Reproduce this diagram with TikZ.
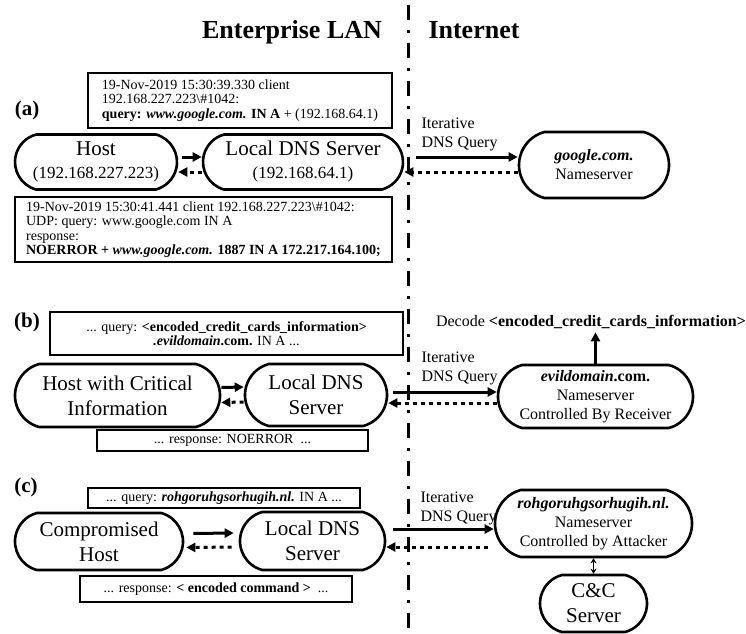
\documentclass[tikz,border=0pt]{standalone}
\usepackage{fontspec}
\setmainfont{Liberation Serif}
\usetikzlibrary{arrows.meta}
\usetikzlibrary{shapes.misc}

\tikzset{
    stadium/.style={rounded rectangle, rounded rectangle arc length=150, draw, line width=2.6pt, inner sep=0pt, align=center},
    logbox/.style={rectangle, draw, line width=2.6pt, inner sep=0pt, font=\fontsize{14}{14.5}\selectfont},
    heading/.style={font=\fontsize{26}{30}\selectfont\bfseries},
    partlabel/.style={font=\fontsize{21}{24}\selectfont\bfseries},
    bigtext/.style={font=\fontsize{21}{25}\selectfont},
    smalltext/.style={font=\fontsize{16}{19}\selectfont},
    query/.style={line width=3pt, -{Triangle[length=9pt,width=9pt]}},
    reply/.style={line width=3pt, dash pattern=on 4pt off 4pt, -{Triangle[length=9pt,width=9pt]}},
    link/.style={line width=1.5pt, {Stealth[length=5pt,width=6pt]}-{Stealth[length=5pt,width=6pt]}},
    divider/.style={line width=3pt, dash pattern=on 15pt off 10pt on 3pt off 10pt}
}

\begin{document}
\begin{tikzpicture}[x=1pt,y=-1pt]
    \useasboundingbox (0,0) rectangle (746,633);
    \coordinate (divTop) at (408,5);
    \coordinate (divBot) at (408,633);
    \draw[divider] (divTop) -- (divBot);
    \node at (292,32) [heading] (lan) {Enterprise LAN};
    \node at (474,30) [heading] (internet) {Internet};

    % (a) normal lookup
    \node at (27,110) [partlabel] (labA) {(a)};
    \node at (240,100.5) [logbox,minimum width=304pt,minimum height=55pt,align=left] (logQueryA)
        {19-Nov-2019 15:30:39.330 client\\192.168.227.223\textbackslash\#1042:\\
         \textbf{query: \textit{www.google.com.} IN A} + (192.168.64.1)};
    \node at (96,162) [stadium,bigtext,minimum width=162pt,minimum height=55pt] (hostA)
        {Host\\[-2pt]{\fontsize{17}{19}\selectfont (192.168.227.223)}};
    \node at (303,162) [stadium,bigtext,minimum width=200pt,minimum height=55pt] (dnsA)
        {Local DNS Server\\[-2pt]{\fontsize{17}{19}\selectfont (192.168.64.1)}};
    \node at (203.5,229.5) [logbox,minimum width=377pt,minimum height=65pt,align=left] (logReplyA)
        {19-Nov-2019 15:30:41.441 client 192.168.227.223\textbackslash\#1042:\\
         UDP: query: www.google.com IN A\\
         response:\\
         \textbf{NOERROR + \textit{www.google.com.} 1887 IN A 172.217.164.100;}};
    \node at (594,165) [stadium,smalltext,minimum width=150pt,minimum height=66pt] (googleNS)
        {\textbf{\textit{google.com.}}\\Nameserver};
    \node at (418,134) [anchor=west,smalltext,align=left] (iterA) {Iterative\\DNS Query};
    \draw[query,shorten <=4pt] ([yshift=5pt]hostA.east) -- ([yshift=5pt]dnsA.west);
    \draw[reply] ([yshift=-10pt]dnsA.west) -- ([yshift=-10pt]hostA.east);
    \draw[query,shorten <=12pt] ([yshift=5pt]dnsA.east) -- ([yshift=5pt]dnsA.east -| googleNS.west);
    \draw[reply] ([yshift=-10pt]dnsA.east -| googleNS.west) -- ([yshift=-10pt]dnsA.east);

    % (b) exfiltration
    \node at (27,322) [partlabel] (labB) {(b)};
    \node at (226.5,333.5) [logbox,minimum width=353pt,minimum height=43pt,align=center] (logQueryB)
        {... query: \textbf{<encoded\_credit\_cards\_information>}\\
         \textbf{\textit{.evildomain}.com.} IN A ...};
    \node at (117.5,395.5) [stadium,bigtext,minimum width=205pt,minimum height=63pt] (hostB)
        {Host with Critical\\Information};
    \node at (316,395) [stadium,bigtext,minimum width=142pt,minimum height=62pt] (dnsB)
        {Local DNS\\Server};
    \node at (232.5,440.5) [logbox,minimum width=271pt,minimum height=21pt] (logReplyB)
        {... response: NOERROR\ \ ...};
    \node at (595.5,396.5) [stadium,smalltext,minimum width=195pt,minimum height=63pt] (evilNS)
        {\textbf{\textit{evildomain}.com.}\\Nameserver\\Controlled By Receiver};
    \node at (591,322) [smalltext] (decode) {Decode \textbf{<encoded\_credit\_cards\_information>}};
    \node at (418,368.5) [anchor=west,smalltext,align=left] (iterB) {Iterative\\DNS Query};
    \draw[query] ([yshift=8pt]hostB.east) -- ([yshift=8pt]dnsB.west);
    \draw[reply] ([yshift=-7pt]dnsB.west) -- ([yshift=-7pt]hostB.east);
    \draw[query,shorten <=5pt] ([yshift=3pt]dnsB.east) -- ([yshift=3pt]dnsB.east -| evilNS.west);
    \draw[reply] ([yshift=-8pt]dnsB.east -| evilNS.west) -- ([yshift=-8pt]dnsB.east);
    \draw[query] (evilNS.north) -- (evilNS.north |- decode.south);

    % (c) command and control
    \node at (26,487) [partlabel] (labC) {(c)};
    \node at (224,498) [logbox,minimum width=272pt,minimum height=20pt] (logQueryC)
        {... query: \textbf{\textit{rohgoruhgsorhugih.nl.}} IN A ...};
    \node at (99,541.5) [stadium,bigtext,minimum width=168pt,minimum height=57pt] (hostC)
        {Compromised\\Host};
    \node at (312.5,541) [stadium,bigtext,minimum width=145pt,minimum height=58pt] (dnsC)
        {Local DNS\\Server};
    \node at (216,589) [logbox,minimum width=272pt,minimum height=26pt] (logReplyC)
        {... response: \textbf{< encoded command >}\ \ ...};
    \node at (593.5,523.5) [stadium,smalltext,minimum width=197pt,minimum height=67pt] (rohNS)
        {\textbf{\textit{rohgoruhgsorhugih.nl.}}\\Nameserver\\Controlled by Attacker};
    \node at (593.5,603.5) [stadium,bigtext,minimum width=107pt,minimum height=57pt] (ccServer)
        {C\&C\\Server};
    \node at (417,508.5) [anchor=west,smalltext,align=left] (iterC) {Iterative\\DNS Query};
    \draw[query,shorten <=9pt,shorten >=5pt] ([yshift=8pt]hostC.east) -- ([yshift=8pt]dnsC.west);
    \draw[reply,shorten <=7pt,shorten >=2pt] ([yshift=-6pt]dnsC.west) -- ([yshift=-6pt]hostC.east);
    \draw[query,shorten <=7pt] ([yshift=12pt]dnsC.east) -- ([yshift=12pt]dnsC.east -| rohNS.west);
    \draw[reply,shorten <=6pt] ([yshift=-6pt]dnsC.east -| rohNS.west) -- ([yshift=-6pt]dnsC.east);
    \draw[link] (rohNS.south) -- (ccServer.north);
\end{tikzpicture}
\end{document}
